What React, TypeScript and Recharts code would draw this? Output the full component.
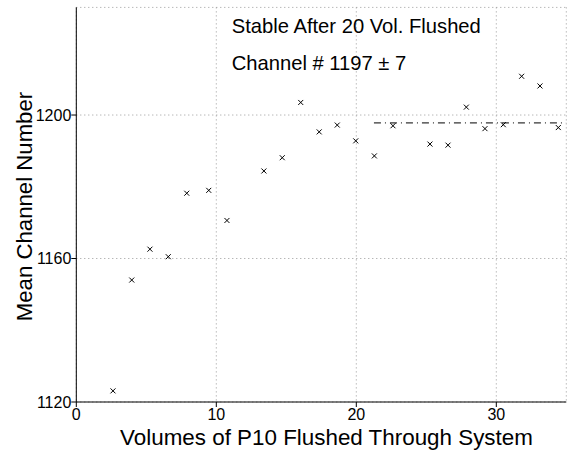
import React from 'react';
import { ScatterChart, Scatter, XAxis, YAxis, CartesianGrid, Customized } from 'recharts';

const volumes = [2.62, 3.96, 5.26, 6.57, 7.89, 9.46, 10.76, 13.4, 14.71, 16.03, 17.35, 18.64, 19.96, 21.29, 22.62, 25.26, 26.55, 27.86, 29.19, 30.5, 31.81, 33.12, 34.43];
const channels = [1123.1, 1154.0, 1162.6, 1160.5, 1178.2, 1179.0, 1170.6, 1184.4, 1188.1, 1203.5, 1195.3, 1197.2, 1192.8, 1188.6, 1197.0, 1191.9, 1191.6, 1202.2, 1196.2, 1197.3, 1210.8, 1208.1, 1196.5];
const fitX = [21.26, 35];
const fitY = [1197.8, 1197.8];
const xTicks = [0, 10, 20, 30];
const yTicks = [1120, 1160, 1200];
const annotation1 = 'Stable After 20 Vol. Flushed';
const annotation2 = 'Channel # 1197 \u00b1 7';
const xTitle = 'Volumes of P10 Flushed Through System';
const yTitle = 'Mean Channel Number';

const points = volumes.map((x, i) => ({ x, y: channels[i] }));
const fitData = fitX.map((x, i) => ({ x, y: fitY[i] }));

const FONT = '"Liberation Sans", Arial, Helvetica, sans-serif';

const XMark = (props: any) => {
  const { cx, cy } = props;
  const s = 2.5;
  return (
    <path
      d={`M${cx - s},${cy - s}L${cx + s},${cy + s}M${cx + s},${cy - s}L${cx - s},${cy + s}`}
      stroke="#000"
      strokeWidth={1}
      fill="none"
    />
  );
};

const Texts = () => (
  <g fontFamily={FONT} fill="#000">
    <text x={231.7} y={33.3} fontSize={20.2}>{annotation1}</text>
    <text x={231.7} y={70} fontSize={20.2}>{annotation2}</text>
    <text x={326.5} y={444.5} fontSize={22.4} textAnchor="middle">{xTitle}</text>
    <text x={32} y={206.5} fontSize={22.2} textAnchor="middle" transform="rotate(-90, 32, 206.5)">{yTitle}</text>
  </g>
);

export default function App() {
  return (
    <div style={{ position: 'absolute', left: 0, top: 0, background: '#fff' }}>
      <ScatterChart
        width={573}
        height={451}
        margin={{ top: 7.4, right: 6.7, bottom: 0, left: 0 }}
        style={{ fontFamily: FONT }}
      >
        <CartesianGrid stroke="#999" strokeDasharray="1 3" />
        <XAxis
          type="number"
          dataKey="x"
          domain={[0, 35]}
          ticks={xTicks}
          height={49}
          axisLine={{ stroke: '#000' }}
          tickLine={{ stroke: '#000' }}
          tickSize={5}
          tickMargin={2}
          tick={{ fill: '#000', fontSize: 16, fontFamily: FONT }}
          allowDataOverflow
        />
        <YAxis
          type="number"
          dataKey="y"
          domain={[1120, 1230]}
          ticks={yTicks}
          width={76.3}
          axisLine={{ stroke: '#000' }}
          tickLine={{ stroke: '#000' }}
          tickSize={5}
          tickMargin={0}
          tick={{ fill: '#000', fontSize: 16, fontFamily: FONT }}
          allowDataOverflow
        />
        <Scatter data={points} shape={XMark} isAnimationActive={false} />
        <Scatter
          data={fitData}
          line={{ stroke: '#000', strokeWidth: 1, strokeDasharray: '7 4 1 4' }}
          shape={() => <g />}
          isAnimationActive={false}
        />
        <Customized component={Texts} />
      </ScatterChart>
    </div>
  );
}
